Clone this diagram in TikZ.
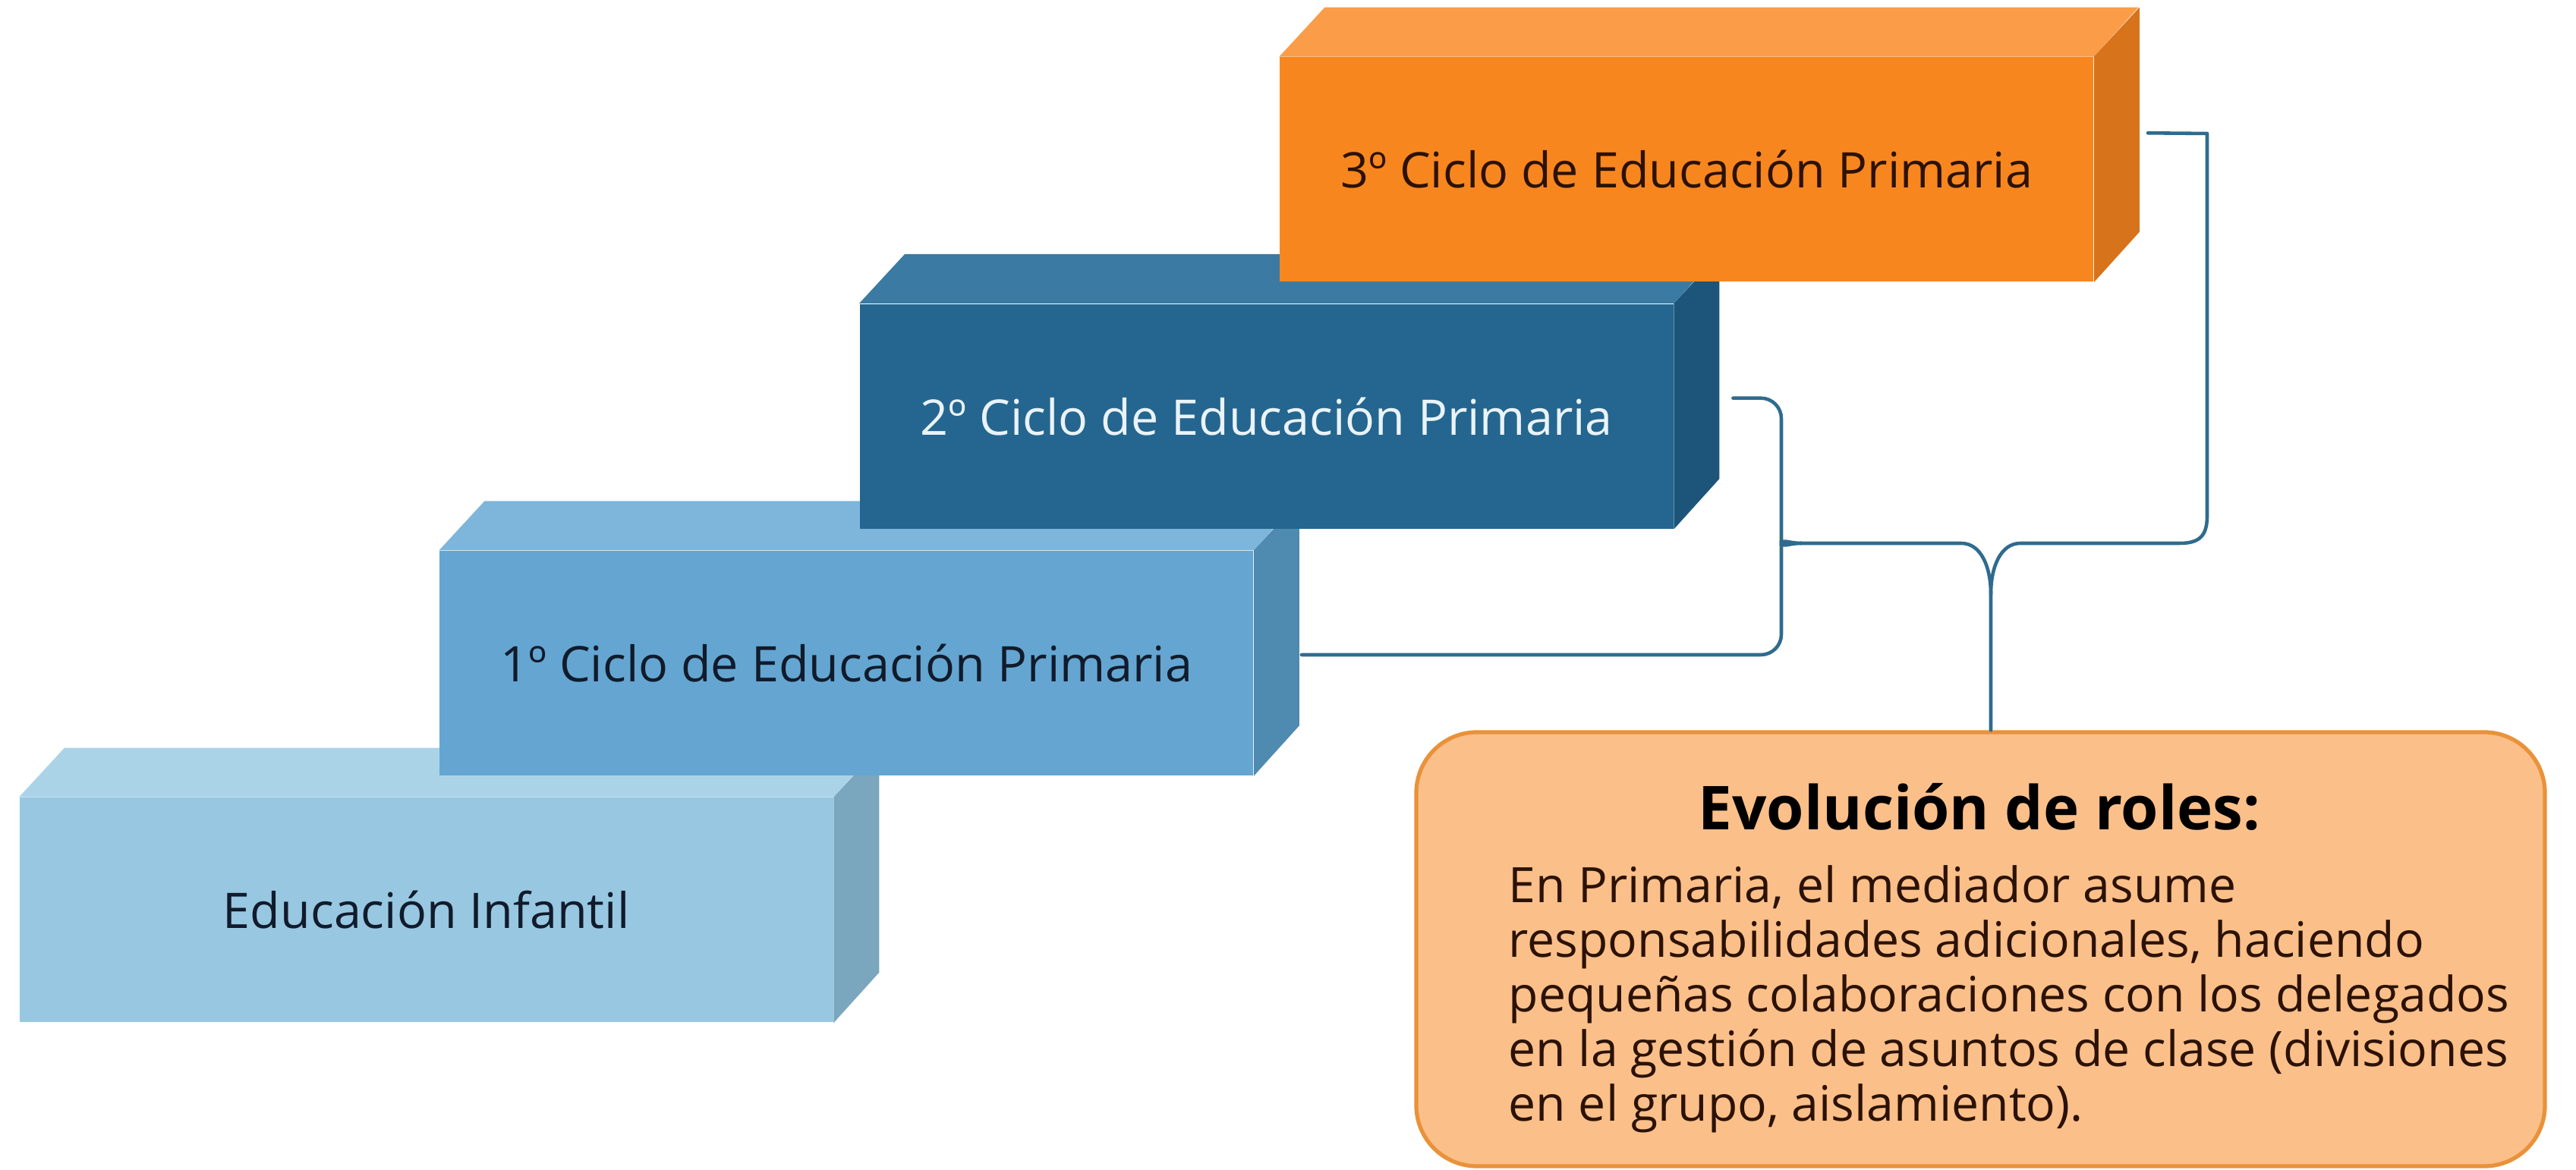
\documentclass[tikz,border=0pt]{standalone}
\usepackage{fontspec}
\setmainfont{Open Sans}
\usepackage{tikz}
\definecolor{infantil}{HTML}{98C7E1}
\definecolor{infantiltop}{HTML}{ABD3E8}
\definecolor{infantilside}{HTML}{7AA6BE}
\definecolor{ciclouno}{HTML}{64A6D1}
\definecolor{ciclounotop}{HTML}{7DB6DA}
\definecolor{ciclounoside}{HTML}{4F8AB0}
\definecolor{ciclodos}{HTML}{24668F}
\definecolor{ciclodostop}{HTML}{3B7AA2}
\definecolor{ciclodosside}{HTML}{1D557A}
\definecolor{ciclotres}{HTML}{F8861F}
\definecolor{ciclotrestop}{HTML}{FA9C48}
\definecolor{ciclotresside}{HTML}{D7731B}
\definecolor{textooscuro}{HTML}{111B2B}
\definecolor{textoclaro}{HTML}{EAF3F8}
\definecolor{textomarron}{HTML}{2B1205}
\definecolor{enlacecolor}{HTML}{2F6B8E}
\definecolor{rolfondo}{HTML}{FBBF8A}
\definecolor{rolborde}{HTML}{E9923A}

\begin{document}
\begin{tikzpicture}[line cap=round,line join=round,x=1cm,y=1cm,
  bloque/.style={anchor=south west,minimum width=10.72cm,minimum height=2.96cm,inner sep=0pt,font=\fontsize{18.4}{22}\selectfont},
  enlace/.style={color=enlacecolor,line width=1.3pt},
  rolcaja/.style={draw=rolborde,fill=rolfondo,line width=1.5pt,rounded corners=0.8cm,minimum width=14.87cm,minimum height=5.72cm}]
\useasboundingbox (0,0) rectangle (33.94,15.42);
% escalones
\node[bloque,fill=infantil,text=textooscuro] (infantil) at (0.25,1.94) {Educación Infantil};
\fill[infantiltop] (infantil.north west) -- ++(0.6,0.65) -- ++(10.72,0) -- (infantil.north east) -- cycle;
\fill[infantilside] (infantil.north east) -- ++(0.6,0.65) -- ++(0,-2.96) -- (infantil.south east) -- cycle;
\node[bloque,fill=ciclouno,text=textooscuro] (ciclouno) at (5.785,5.193) {1º Ciclo de Educación Primaria};
\fill[ciclounotop] (ciclouno.north west) -- ++(0.6,0.65) -- ++(10.72,0) -- (ciclouno.north east) -- cycle;
\fill[ciclounoside] (ciclouno.north east) -- ++(0.6,0.65) -- ++(0,-2.96) -- (ciclouno.south east) -- cycle;
\node[bloque,fill=ciclodos,text=textoclaro] (ciclodos) at (11.32,8.446) {2º Ciclo de Educación Primaria};
\fill[ciclodostop] (ciclodos.north west) -- ++(0.6,0.65) -- ++(10.72,0) -- (ciclodos.north east) -- cycle;
\fill[ciclodosside] (ciclodos.north east) -- ++(0.6,0.65) -- ++(0,-2.96) -- (ciclodos.south east) -- cycle;
\node[bloque,fill=ciclotres,text=textomarron] (ciclotres) at (16.855,11.70) {3º Ciclo de Educación Primaria};
\fill[ciclotrestop] (ciclotres.north west) -- ++(0.6,0.65) -- ++(10.72,0) -- (ciclotres.north east) -- cycle;
\fill[ciclotresside] (ciclotres.north east) -- ++(0.6,0.65) -- ++(0,-2.96) -- (ciclotres.south east) -- cycle;
% cuadro de roles
\node[rolcaja] (roles) at (26.095,2.91) {};
\node[font=\bfseries\fontsize{22.7}{27}\selectfont,anchor=base,text=black] (titulo) at (26.08,4.48) {Evolución de roles:};
\node[font=\fontsize{18.3}{20.5}\selectfont,anchor=north west,inner sep=0pt,align=left,text=textomarron] (texto) at (19.87,4.02)
  {En Primaria, el mediador asume\\responsabilidades adicionales, haciendo\\pequeñas colaboraciones con los delegados\\en la gestión de asuntos de clase (divisiones\\en el grupo, aislamiento).};
% llaves
\coordinate (punta) at (23.73,8.26);
\coordinate (cuspide) at (26.23,7.59);
\draw[enlace,rounded corners=0.27cm] ([xshift=0.78cm,yshift=0.24cm]ciclodos.east) -| (23.47,8.5) .. controls (23.47,8.33) and (23.56,8.26) .. (punta);
\draw[enlace,rounded corners=0.27cm] ([xshift=0.63cm,yshift=0.11cm]ciclouno.east) -| (23.47,8.02) .. controls (23.47,8.19) and (23.56,8.26) .. (punta);
\draw[enlace] (punta) -- (25.84,8.26) .. controls (26.10,8.26) and (26.23,7.95) .. (cuspide) -- (cuspide |- roles.north);
\draw[enlace] ([xshift=0.71cm,yshift=0.48cm]ciclotres.east) -- (29.08,13.66) -- (29.08,8.62) .. controls (29.08,8.36) and (28.98,8.26) .. (28.72,8.26) -- (26.62,8.26) .. controls (26.36,8.26) and (26.23,7.95) .. (cuspide);
\end{tikzpicture}
\end{document}
